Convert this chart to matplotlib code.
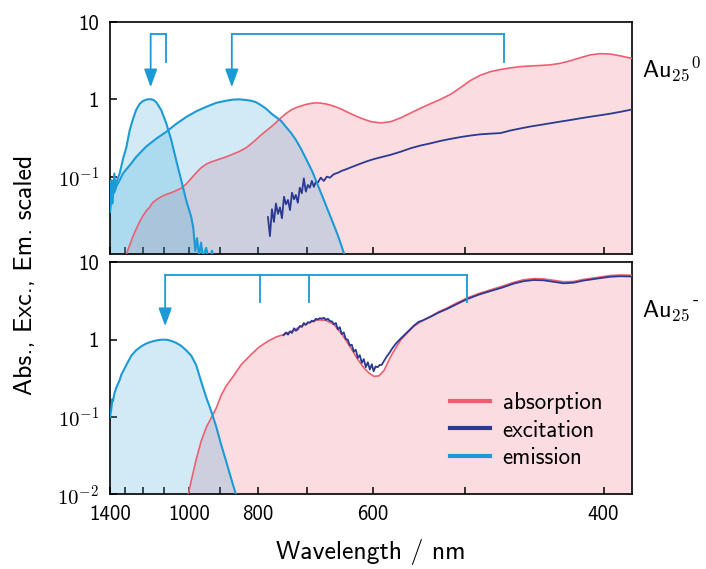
import numpy as np
import matplotlib
matplotlib.use("Agg")
import matplotlib.pyplot as plt
from matplotlib.ticker import NullLocator

## Data (x in eV, y scaled intensity) ##

# Au25^0 absorption
top_abs_ev = [0.959, 0.974, 0.989, 1.003, 1.018, 1.033, 1.048, 1.063, 1.072, 1.080, 1.093, 1.115, 1.138,
              1.160, 1.182, 1.205, 1.227, 1.250, 1.272, 1.294, 1.317, 1.339, 1.362, 1.406, 1.436, 1.466,
              1.496, 1.518, 1.540, 1.563, 1.585, 1.608, 1.630, 1.652, 1.675, 1.697, 1.719, 1.742, 1.764,
              1.787, 1.809, 1.831, 1.854, 1.876, 1.898, 1.921, 1.943, 1.966, 2.010, 2.055, 2.100, 2.145,
              2.189, 2.234, 2.279, 2.324, 2.368, 2.413, 2.458, 2.502, 2.547, 2.592, 2.637, 2.681, 2.726,
              2.771, 2.816, 2.860, 2.905, 2.950, 2.995, 3.039, 3.084, 3.129, 3.174, 3.227]
top_abs_val = [0.010, 0.013, 0.017, 0.021, 0.026, 0.031, 0.036, 0.040, 0.044, 0.047, 0.050, 0.055, 0.059,
               0.062, 0.066, 0.071, 0.080, 0.095, 0.112, 0.130, 0.145, 0.155, 0.163, 0.180, 0.195, 0.212,
               0.236, 0.265, 0.300, 0.345, 0.390, 0.440, 0.500, 0.575, 0.655, 0.725, 0.780, 0.820, 0.858,
               0.885, 0.900, 0.893, 0.872, 0.840, 0.800, 0.752, 0.700, 0.650, 0.572, 0.515, 0.495, 0.515,
               0.575, 0.665, 0.770, 0.880, 1.000, 1.160, 1.420, 1.750, 2.050, 2.280, 2.430, 2.550, 2.650,
               2.700, 2.740, 2.790, 2.920, 3.150, 3.450, 3.750, 3.900, 3.850, 3.650, 3.380]

# Au25^0 excitation
top_exc_ev = [1.594, 1.603, 1.612, 1.621, 1.630, 1.639, 1.648, 1.657, 1.666, 1.675, 1.684, 1.693, 1.702,
              1.711, 1.719, 1.728, 1.737, 1.746, 1.755, 1.764, 1.773, 1.782, 1.791, 1.800, 1.809, 1.818,
              1.831, 1.845, 1.858, 1.872, 1.890, 1.907, 1.925, 1.943, 1.966, 1.992, 2.019, 2.046, 2.073,
              2.100, 2.145, 2.189, 2.234, 2.279, 2.324, 2.368, 2.413, 2.458, 2.502, 2.547, 2.592, 2.637,
              2.659, 2.681, 2.726, 2.771, 2.816, 2.860, 2.905, 2.950, 2.995, 3.039, 3.084, 3.129, 3.174,
              3.227]
top_exc_val = [0.030, 0.017, 0.038, 0.026, 0.045, 0.033, 0.040, 0.029, 0.055, 0.044, 0.050, 0.037, 0.062,
               0.051, 0.058, 0.046, 0.072, 0.061, 0.095, 0.064, 0.078, 0.072, 0.088, 0.074, 0.086, 0.084,
               0.097, 0.088, 0.100, 0.097, 0.108, 0.112, 0.119, 0.124, 0.132, 0.141, 0.151, 0.161, 0.170,
               0.178, 0.192, 0.210, 0.233, 0.253, 0.270, 0.290, 0.308, 0.325, 0.340, 0.353, 0.360, 0.366,
               0.380, 0.395, 0.420, 0.445, 0.467, 0.490, 0.515, 0.540, 0.568, 0.595, 0.622, 0.652, 0.688,
               0.740]

# Au25^0 emission, narrow NIR band
top_em1_ev = [0.886, 0.892, 0.896, 0.899, 0.905, 0.910, 0.914, 0.929, 0.944, 0.959, 0.974, 0.989, 1.003,
              1.018, 1.033, 1.048, 1.060, 1.071, 1.082, 1.093, 1.115, 1.138, 1.160, 1.182, 1.205, 1.227,
              1.250, 1.259, 1.268, 1.276, 1.285, 1.294, 1.303, 1.317, 1.330, 1.343, 1.362]
top_em1_val = [0.040, 0.090, 0.045, 0.060, 0.110, 0.070, 0.085, 0.110, 0.170, 0.240, 0.400, 0.560, 0.730,
               0.870, 0.950, 0.990, 1.005, 1.000, 0.975, 0.920, 0.730, 0.490, 0.300, 0.165, 0.090, 0.050,
               0.030, 0.022, 0.011, 0.016, 0.0095, 0.014, 0.009, 0.012, 0.008, 0.011, 0.006]

# Au25^0 emission, broad band
top_em2_ev = [0.886, 0.892, 0.899, 0.905, 0.914, 0.929, 0.944, 0.959, 0.974, 1.003, 1.048, 1.093, 1.138,
              1.182, 1.227, 1.272, 1.317, 1.362, 1.406, 1.436, 1.466, 1.496, 1.518, 1.540, 1.563, 1.585,
              1.608, 1.630, 1.652, 1.675, 1.697, 1.719, 1.742, 1.772, 1.794, 1.816, 1.839, 1.861, 1.884,
              1.906, 1.921, 1.936]
top_em2_val = [0.035, 0.055, 0.068, 0.062, 0.075, 0.090, 0.110, 0.125, 0.140, 0.180, 0.245, 0.310, 0.380,
               0.480, 0.590, 0.700, 0.800, 0.900, 0.960, 0.990, 1.000, 0.980, 0.960, 0.920, 0.840, 0.760,
               0.660, 0.590, 0.530, 0.440, 0.370, 0.300, 0.230, 0.155, 0.115, 0.080, 0.055, 0.038, 0.026,
               0.018, 0.0135, 0.010]

# Au25^- absorption
bot_abs_ev = [1.237, 1.250, 1.272, 1.294, 1.317, 1.347, 1.362, 1.384, 1.406, 1.443, 1.473, 1.518, 1.554,
              1.593, 1.630, 1.667, 1.705, 1.742, 1.779, 1.816, 1.854, 1.891, 1.928, 1.966, 1.996, 2.025,
              2.047, 2.070, 2.092, 2.115, 2.144, 2.167, 2.189, 2.219, 2.249, 2.286, 2.324, 2.361, 2.398,
              2.443, 2.488, 2.540, 2.592, 2.644, 2.696, 2.741, 2.786, 2.830, 2.875, 2.920, 2.965, 3.009,
              3.069, 3.129, 3.174, 3.227]
bot_abs_val = [0.010, 0.015, 0.028, 0.048, 0.073, 0.107, 0.130, 0.190, 0.250, 0.350, 0.470, 0.640, 0.800,
               0.950, 1.080, 1.170, 1.300, 1.490, 1.650, 1.800, 1.780, 1.560, 1.150, 0.780, 0.560, 0.430,
               0.370, 0.335, 0.340, 0.400, 0.600, 0.780, 0.980, 1.220, 1.490, 1.750, 2.000, 2.300, 2.570,
               3.000, 3.460, 3.950, 4.400, 4.900, 5.500, 5.950, 6.150, 6.100, 5.850, 5.600, 5.650, 6.000,
               6.350, 6.750, 6.850, 6.800]

# Au25^- excitation
bot_exc_ev = [1.664, 1.675, 1.684, 1.693, 1.702, 1.711, 1.719, 1.728, 1.737, 1.746, 1.755, 1.764, 1.773,
              1.782, 1.791, 1.800, 1.809, 1.818, 1.827, 1.836, 1.845, 1.854, 1.863, 1.872, 1.881, 1.890,
              1.899, 1.907, 1.916, 1.925, 1.934, 1.943, 1.952, 1.961, 1.970, 1.979, 1.988, 1.997, 2.006,
              2.015, 2.024, 2.033, 2.042, 2.051, 2.060, 2.068, 2.077, 2.086, 2.095, 2.104, 2.113, 2.126,
              2.140, 2.153, 2.167, 2.189, 2.219, 2.249, 2.270, 2.286, 2.324, 2.361, 2.398, 2.443, 2.488,
              2.540, 2.592, 2.644, 2.696, 2.741, 2.786, 2.830, 2.875, 2.920, 2.965, 3.009, 3.069, 3.129,
              3.174, 3.227]
bot_exc_val = [1.14, 1.24, 1.16, 1.28, 1.22, 1.40, 1.30, 1.36, 1.50, 1.46, 1.64, 1.55, 1.68,
               1.66, 1.76, 1.72, 1.86, 1.82, 1.90, 1.86, 1.92, 1.80, 1.86, 1.74, 1.72, 1.58,
               1.64, 1.36, 1.45, 1.18, 1.24, 1.02, 1.00, 0.84, 0.86, 0.70, 0.74, 0.58, 0.63,
               0.50, 0.56, 0.44, 0.51, 0.41, 0.48, 0.39, 0.45, 0.44, 0.47, 0.47, 0.52, 0.60,
               0.68, 0.78, 0.88, 1.03, 1.25, 1.52, 1.70, 1.76, 1.98, 2.25, 2.50, 2.90, 3.35,
               3.82, 4.25, 4.70, 5.30, 5.70, 5.90, 5.85, 5.60, 5.35, 5.45, 5.80, 6.15, 6.50,
               6.60, 6.55]

# Au25^- emission
bot_em_ev = [0.886, 0.892, 0.896, 0.899, 0.905, 0.914, 0.929, 0.936, 0.959, 0.981, 1.003, 1.026, 1.048,
             1.071, 1.093, 1.111, 1.129, 1.145, 1.160, 1.182, 1.205, 1.227, 1.250, 1.272, 1.294, 1.317,
             1.339, 1.362, 1.384, 1.406, 1.429, 1.451]
bot_em_val = [0.100, 0.130, 0.170, 0.160, 0.200, 0.240, 0.300, 0.350, 0.470, 0.620, 0.730, 0.820, 0.890,
              0.940, 0.975, 0.995, 1.000, 0.990, 0.965, 0.910, 0.830, 0.730, 0.620, 0.470, 0.290, 0.180,
              0.120, 0.075, 0.044, 0.027, 0.016, 0.0098]

# bracket marks (eV): arrow positions and leg positions
top_arrows = [1.068, 1.432]
top_legs = [1.135, 2.652]
bot_arrows = [1.133]
bot_legs = [1.557, 1.778, 2.488]

# axis labels
tick_nm = [1400, 1300, 1200, 1100, 1000, 900, 800, 700, 600, 500, 400]
tick_lbl = ['1400', '', '', '', '1000', '', '800', '', '600', '', '400']

c_abs = '#ec5f70'
c_exc = '#2b3990'
c_em = '#1b9ad6'
c_absfill = '#fbdde1'

plt.rcParams['font.family'] = ['cmss10', 'DejaVu Sans']
plt.rcParams['mathtext.fontset'] = 'cm'

fig = plt.figure(figsize=(7.06, 5.69), dpi=100)
ax1 = fig.add_axes([110/706, 1-254/569, 522/706, 232/569])
ax2 = fig.add_axes([110/706, 1-494.3/569, 522/706, 232/569])

for ax in (ax1, ax2):
    ax.set_yscale('log')
    ax.set_ylim(0.01, 10)
    ax.set_xlim(1239.84/1400, 3.227)
    ax.set_xticks(1239.84/np.array(tick_nm))
    ax.yaxis.set_minor_locator(NullLocator())
    ax.xaxis.set_minor_locator(NullLocator())
    ax.tick_params(direction='in', length=5, width=1.1, labelsize=15, pad=8)
    for s in ax.spines.values():
        s.set_linewidth(1.2)

# top panel
ax1.fill_between(top_abs_ev, top_abs_val, 1e-3, color=c_absfill, lw=0, zorder=1)
ax1.fill_between(top_em2_ev, top_em2_val, 1e-3, color=c_em, alpha=0.2, lw=0, zorder=2)
ax1.fill_between(top_em1_ev, top_em1_val, 1e-3, color=c_em, alpha=0.2, lw=0, zorder=2)
ax1.plot(top_abs_ev, top_abs_val, color=c_abs, lw=1.2, zorder=3)
ax1.plot(top_exc_ev, top_exc_val, color=c_exc, lw=1.3, zorder=4)
ax1.plot(top_em1_ev, top_em1_val, color=c_em, lw=1.5, zorder=4)
ax1.plot(top_em2_ev, top_em2_val, color=c_em, lw=1.5, zorder=4)
ax1.set_xticklabels([])
ax1.set_yticks([10, 1, 0.1])
ax1.set_yticklabels(['10', '1', r'$\mathsf{10^{-1}}$'])

# bottom panel
ax2.fill_between(bot_abs_ev, bot_abs_val, 1e-3, color=c_absfill, lw=0, zorder=1)
ax2.fill_between(bot_em_ev, bot_em_val, 1e-3, color=c_em, alpha=0.2, lw=0, zorder=2)
ax2.plot(bot_abs_ev, bot_abs_val, color=c_abs, lw=1.2, zorder=3, label='absorption')
ax2.plot(bot_exc_ev, bot_exc_val, color=c_exc, lw=1.3, zorder=4, label='excitation')
ax2.plot(bot_em_ev, bot_em_val, color=c_em, lw=1.5, zorder=4, label='emission')
ax2.set_xticklabels(tick_lbl)
ax2.set_yticks([10, 1, 0.1, 0.01])
ax2.set_yticklabels(['10', '1', r'$\mathsf{10^{-1}}$', r'$\mathsf{10^{-2}}$'])

leg = ax2.legend(loc='lower left', bbox_to_anchor=(0.651, 0.108), frameon=False, fontsize=16.5,
                 handlelength=1.75, handletextpad=0.55, labelspacing=0.25, borderpad=0, borderaxespad=0)
for h in leg.get_lines():
    h.set_linewidth(3)

# brackets with arrows
def brackets(ax, arrows, legs, top, leg_end, tip):
    xs = sorted(arrows + legs)
    ax.plot([xs[0], xs[-1]], [top, top], color=c_em, lw=1.3, zorder=5)
    for x in legs:
        ax.plot([x, x], [top, leg_end], color=c_em, lw=1.3, zorder=5)
    for x in arrows:
        ax.annotate('', xy=(x, tip), xytext=(x, top),
                    arrowprops=dict(arrowstyle='-|>,head_length=0.55,head_width=0.2',
                                    color=c_em, lw=1.3, mutation_scale=20,
                                    shrinkA=0, shrinkB=0), zorder=5)

brackets(ax1, [top_arrows[0]], [top_legs[0]], 7.0, 3.03, 1.43)
brackets(ax1, [top_arrows[1]], [top_legs[1]], 7.0, 3.03, 1.43)
brackets(ax2, bot_arrows, bot_legs, 6.93, 3.04, 1.49)

ax1.text(1.02, 0.763, r'${\mathsf{Au}_{\mathsf{25}}}^{\mathsf{0}}$', transform=ax1.transAxes,
         fontsize=17.5, va='baseline', ha='left')
ax2.text(1.02, 0.764, r'$\mathsf{Au}_{\mathsf{25}}$', transform=ax2.transAxes,
         fontsize=17.5, va='baseline', ha='left')
# short hyphen as charge sign, like the original
ax2.annotate('-', xy=(1.02, 0.764), xycoords='axes fraction', xytext=(36, 9),
             textcoords='offset points', fontsize=13, va='baseline', ha='left')

fig.text(26/706, 1-275/569, 'Abs., Exc., Em. scaled', rotation=90, fontsize=18.5,
         ha='center', va='center')
fig.text(371/706, 1-552/569, 'Wavelength / nm', fontsize=18.5, ha='center', va='center')

fig.savefig('out.png', dpi=100)
